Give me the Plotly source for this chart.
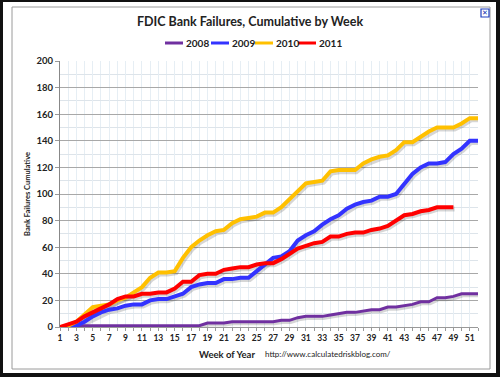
import plotly.graph_objects as go

weeks = list(range(1, 53))

y2008 = [0, 0, 1, 1, 1, 1, 1, 1, 1, 1, 1, 1, 1, 1, 1, 1, 1, 1, 3, 3,
         3, 4, 4, 4, 4, 4, 4, 5, 5, 7, 8, 8, 8, 9, 10, 11, 11, 12, 13, 13,
         15, 15, 16, 17, 19, 19, 22, 22, 23, 25, 25, 25]
y2009 = [0, 0, 1, 4, 8, 11, 13, 14, 16, 17, 17, 20, 21, 21, 23, 25, 30, 32, 33, 33,
         36, 36, 37, 37, 42, 47, 52, 53, 57, 65, 69, 72, 77, 81, 84, 89, 92, 94, 95, 98,
         98, 100, 107, 115, 120, 123, 123, 124, 130, 134, 140, 140]
y2010 = [0, 1, 4, 10, 15, 16, 17, 20, 22, 26, 30, 37, 41, 41, 42, 52, 60, 65, 69, 72,
         73, 78, 81, 82, 83, 86, 86, 90, 96, 103, 108, 109, 110, 117, 118, 118, 118, 123, 126, 128,
         129, 133, 139, 139, 143, 147, 150, 150, 150, 153, 157, 157]
y2011 = [0, 2, 4, 8, 11, 14, 17, 21, 23, 23, 25, 25, 26, 26, 29, 34, 34, 39, 40, 40,
         43, 44, 45, 45, 47, 48, 48, 51, 55, 59, 61, 63, 64, 68, 68, 70, 71, 71, 73, 74,
         76, 80, 84, 85, 87, 88, 90, 90, 90]

series = [
    ("2008", y2008, "#7030A0", 3),
    ("2009", y2009, "#3333FF", 4),
    ("2010", y2010, "#FFC000", 4),
    ("2011", y2011, "#FF0000", 4),
]

x_ticks = list(range(1, 52, 2))
y_ticks = list(range(0, 201, 20))

FONT = "Lato"
W, H = 500, 377
L, R, T, B = 60, 22, 61, 50
PW, PH = W - L - R, H - T - B


def px(xp):
    return (xp - L) / PW


def py(yp):
    return (H - B - yp) / PH


fig = go.Figure()

# soft drop shadows
for name, ys, color, w in series:
    fig.add_trace(go.Scatter(
        x=[x + 0.15 for x in weeks[:len(ys)]], y=[v - 1.2 for v in ys],
        mode="lines", line=dict(color="rgba(0,0,0,0.16)", width=w + 1),
        hoverinfo="skip", showlegend=False))

for name, ys, color, w in series:
    fig.add_trace(go.Scatter(
        x=weeks[:len(ys)], y=ys, name=name, mode="lines",
        line=dict(color=color, width=w), showlegend=False))

shapes = [
    # white panel over dark frame
    dict(type="rect", xref="paper", yref="paper", x0=px(3), x1=px(496), y0=py(373), y1=py(2),
         fillcolor="white", line=dict(width=0), layer="below"),
    # thin grey panel border
    dict(type="rect", xref="paper", yref="paper", x0=px(12), x1=px(490), y0=py(369), y1=py(7),
         fillcolor="rgba(0,0,0,0)", line=dict(color="#9a9a9a", width=1), layer="below"),
    # close icon box
    dict(type="rect", xref="paper", yref="paper", x0=px(481), x1=px(489), y0=py(17), y1=py(9),
         fillcolor="white", line=dict(color="#2040c0", width=1.2)),
]

annotations = [
    dict(text="✕", xref="paper", yref="paper", x=px(485), y=py(13), showarrow=False,
         font=dict(family="DejaVu Sans", size=7, color="#1030b0"), xanchor="center", yanchor="middle"),
    dict(text="http://www.calculatedriskblog.com/", xref="paper", yref="paper",
         x=px(263), y=py(354), xanchor="left", yanchor="middle", showarrow=False,
         font=dict(family=FONT, size=8, color="#222")),
    dict(text="<b>Week of Year</b>", xref="paper", yref="paper",
         x=px(227), y=py(354), xanchor="center", yanchor="middle", showarrow=False,
         font=dict(family=FONT, size=9.5, color="#222")),
    dict(text="<b>Bank Failures Cumulative</b>", xref="paper", yref="paper",
         x=px(27), y=py(194), xanchor="center", yanchor="middle", textangle=-90, showarrow=False,
         font=dict(family=FONT, size=7.5, color="#222")),
]

# manual compact legend
legend_x = [165, 211, 255, 298]
for (name, ys, color, w), lx in zip(series, legend_x):
    shapes.append(dict(type="line", xref="paper", yref="paper", x0=px(lx), x1=px(lx + 18),
                       y0=py(43), y1=py(43), line=dict(color=color, width=3)))
    annotations.append(dict(text="<b>%s</b>" % name, xref="paper", yref="paper",
                            x=px(lx + 19), y=py(43), xanchor="left", yanchor="middle",
                            showarrow=False, font=dict(family=FONT, size=10, color="#222")))

fig.update_layout(
    width=W, height=H,
    margin=dict(l=L, r=R, t=T, b=B, autoexpand=False),
    paper_bgcolor="#111",
    plot_bgcolor="rgba(0,0,0,0)",
    title=dict(text="<b>FDIC Bank Failures, Cumulative by Week</b>", x=0.5, xanchor="center",
               xref="container", yref="container",
               y=1 - 22 / H, yanchor="middle", font=dict(family=FONT, size=12.5, color="#222")),
    shapes=shapes,
    annotations=annotations,
    showlegend=False,
)

fig.update_xaxes(
    range=[1, 52], tickmode="array", tickvals=x_ticks, ticktext=[str(t) for t in x_ticks],
    tickfont=dict(family=FONT, size=8.5, color="#222", weight="bold"),
    showgrid=True, gridcolor="#e6eef4", gridwidth=1,
    minor=dict(dtick=1, tick0=0, showgrid=True, gridcolor="#e6eef4", ticks="outside",
               ticklen=3, tickcolor="#999"),
    ticks="outside", ticklen=3, tickcolor="#999",
    showline=True, linecolor="#999", linewidth=1, zeroline=False, automargin=False,
)
fig.update_yaxes(
    range=[0, 200], tickmode="array", tickvals=y_ticks, ticktext=[str(t) for t in y_ticks],
    tickfont=dict(family=FONT, size=9.5, color="#222", weight="bold"),
    showgrid=True, gridcolor="#a8a8a8", gridwidth=1,
    minor=dict(dtick=10, showgrid=True, gridcolor="#dde4ea"),
    ticks="outside", ticklen=4, tickcolor="#999",
    showline=True, linecolor="#888", linewidth=1, zeroline=False, automargin=False,
)

fig.write_html("out.html", config={"displayModeBar": False},
               post_script="document.body.style.margin='0';document.body.style.overflow='hidden';")
